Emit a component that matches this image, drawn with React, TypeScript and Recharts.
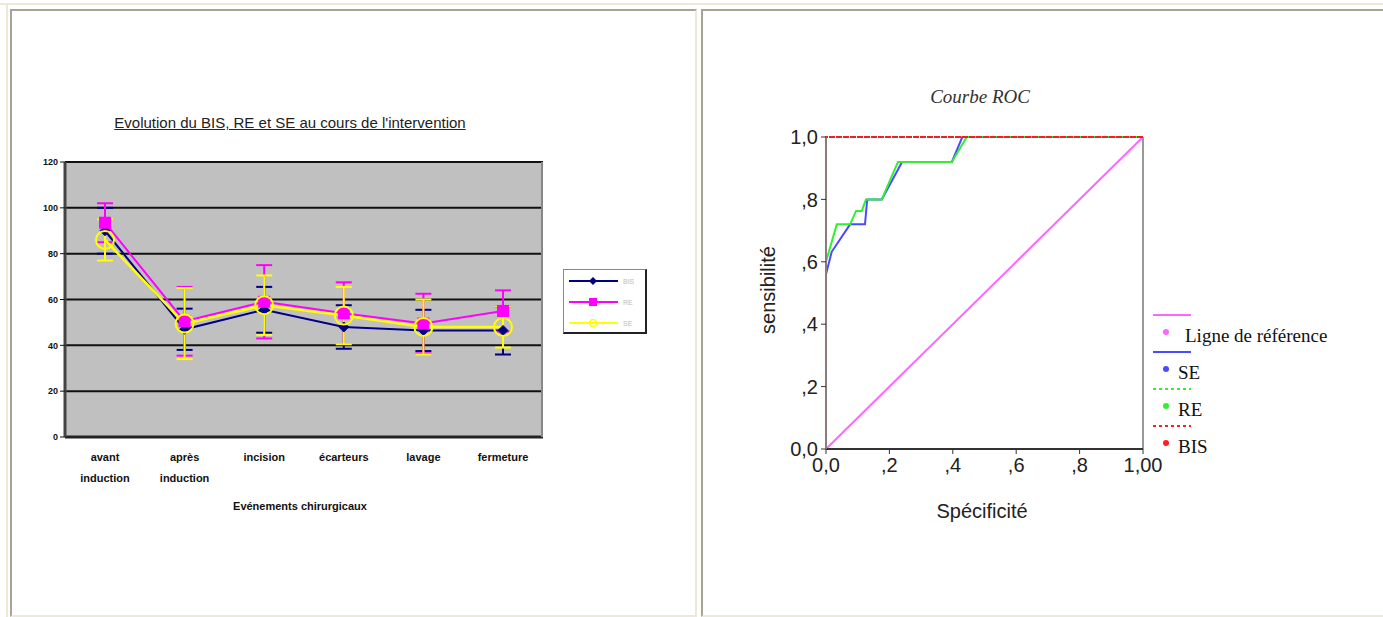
import React from "react";
import {
  LineChart,
  Line,
  XAxis,
  YAxis,
  CartesianGrid,
  ErrorBar,
  ReferenceLine,
} from "recharts";

// Left chart: evolution over surgical events
const categories = [
  "avant induction",
  "après induction",
  "incision",
  "écarteurs",
  "lavage",
  "fermeture",
];
const bisMean = [90, 47, 55.5, 48, 46.5, 46.5];
const bisSd = [10, 9, 10, 9.5, 9, 10.5];
const reMean = [93.5, 50.5, 59, 54, 49.5, 55];
const reSd = [8.5, 15, 16, 13.5, 13, 9];
const seMean = [86, 49.5, 57.5, 53, 48, 48];
const seSd = [9, 15.5, 13, 12.5, 12, 9];
const leftTicks = [0, 20, 40, 60, 80, 100, 120];

// Right chart: ROC curves, [1 - spécificité, sensibilité]
const refLine = [
  [0, 0],
  [1, 1],
];
const seRoc = [
  [0, 0.56],
  [0.018, 0.632],
  [0.076, 0.72],
  [0.123, 0.72],
  [0.13, 0.8],
  [0.176, 0.8],
  [0.24, 0.92],
  [0.397, 0.92],
  [0.43, 1],
  [1, 1],
];
const reRoc = [
  [0, 0.6],
  [0.034, 0.72],
  [0.076, 0.72],
  [0.095, 0.763],
  [0.113, 0.763],
  [0.126, 0.8],
  [0.176, 0.8],
  [0.227, 0.92],
  [0.397, 0.92],
  [0.444, 1],
  [1, 1],
];
const bisRoc = [
  [0, 0],
  [0, 1],
  [1, 1],
];
const rocTicks = [0, 0.2, 0.4, 0.6, 0.8, 1];

const evolution = categories.map((cat, i) => ({
  cat,
  bis: bisMean[i],
  bisErr: bisSd[i],
  re: reMean[i],
  reErr: reSd[i],
  se: seMean[i],
  seErr: seSd[i],
}));

const toPts = (arr: number[][]) => arr.map(([x, y]) => ({ x, y }));

const NAVY = "#000080";
const MAGENTA = "#ff00ff";
const YELLOW = "#ffff00";

function Diamond(props: any) {
  const { cx, cy } = props;
  if (cx == null || cy == null) return null;
  return (
    <path
      d={`M${cx},${cy - 5} L${cx + 5},${cy} L${cx},${cy + 5} L${cx - 5},${cy} Z`}
      fill={NAVY}
      stroke={NAVY}
    />
  );
}

function Square(props: any) {
  const { cx, cy } = props;
  if (cx == null || cy == null) return null;
  return <rect x={cx - 6} y={cy - 6} width={12} height={12} fill={MAGENTA} />;
}

function Ring(props: any) {
  const { cx, cy } = props;
  if (cx == null || cy == null) return null;
  return <circle cx={cx} cy={cy} r={9} fill="none" stroke={YELLOW} strokeWidth={2} />;
}

function CategoryTick(props: any) {
  const { x, y, payload } = props;
  const words = String(payload.value).split(" ");
  return (
    <text
      x={x}
      y={y}
      textAnchor="middle"
      fontSize={11}
      fontWeight="bold"
      fontFamily="Arial, 'Liberation Sans', sans-serif"
      fill="#111"
    >
      {words.map((w, i) => (
        <tspan key={i} x={x} dy={i === 0 ? 16 : 21}>
          {w}
        </tspan>
      ))}
    </text>
  );
}

const rocFmtX = (v: number) => (v === 0 ? "0,0" : v === 1 ? "1,00" : "," + Math.round(v * 10));
const rocFmtY = (v: number) => (v === 0 ? "0,0" : v === 1 ? "1,0" : "," + Math.round(v * 10));

const sans = "Arial, 'Liberation Sans', sans-serif";
const serif = "'Times New Roman', 'Liberation Serif', serif";

function LeftLegend() {
  const items = [
    { name: "BIS", color: NAVY, mark: "diamond" },
    { name: "RE", color: MAGENTA, mark: "square" },
    { name: "SE", color: YELLOW, mark: "ring" },
  ];
  return (
    <div
      style={{
        position: "absolute",
        left: 563,
        top: 269,
        width: 84,
        height: 65,
        boxSizing: "border-box",
        background: "#fff",
        borderTop: "1px solid #888",
        borderLeft: "1px solid #888",
        borderRight: "2px solid #222",
        borderBottom: "2px solid #222",
      }}
    >
      <svg width={82} height={62}>
        {items.map((it, i) => {
          const y = 11 + i * 21;
          return (
            <g key={it.name}>
              <line x1={5} x2={54} y1={y} y2={y} stroke={it.color} strokeWidth={2} />
              {it.mark === "diamond" && (
                <path d={`M29,${y - 4} L33,${y} L29,${y + 4} L25,${y} Z`} fill={it.color} />
              )}
              {it.mark === "square" && <rect x={25} y={y - 4} width={8} height={8} fill={it.color} />}
              {it.mark === "ring" && (
                <circle cx={29} cy={y} r={3.5} fill="none" stroke={it.color} strokeWidth={1.5} />
              )}
              <text x={59} y={y + 3} fontSize={7} fill="#bbb" fontFamily={sans}>
                {it.name}
              </text>
            </g>
          );
        })}
      </svg>
    </div>
  );
}

function RocLegend() {
  const items = [
    { name: "Ligne de référence", color: "#ff66ff", dash: undefined },
    { name: "SE", color: "#4a4aff", dash: undefined },
    { name: "RE", color: "#33ee33", dash: "3 3" },
    { name: "BIS", color: "#ff2020", dash: "3 3" },
  ];
  return (
    <svg
      width={210}
      height={175}
      style={{ position: "absolute", left: 1150, top: 305 }}
    >
      {items.map((it, i) => {
        const y = 10 + i * 37;
        return (
          <g key={it.name}>
            <line
              x1={3}
              x2={41}
              y1={y}
              y2={y}
              stroke={it.color}
              strokeWidth={2}
              strokeDasharray={it.dash}
            />
            <circle cx={16} cy={y + 17} r={3} fill={it.color} />
            <text
              x={it.name.length > 3 ? 35 : 28}
              y={y + 27}
              fontSize={19}
              fontFamily={serif}
              fill="#111"
            >
              {it.name}
            </text>
          </g>
        );
      })}
    </svg>
  );
}

export default function App() {
  return (
    <div
      style={{
        position: "absolute",
        left: 0,
        top: 0,
        width: 1383,
        height: 617,
        background: "#fff",
        overflow: "hidden",
      }}
    >
      {/* table frame */}
      <div style={{ position: "absolute", left: 0, top: 3, width: 1383, height: 2, background: "#ece9d8" }} />
      <div style={{ position: "absolute", left: 6, top: 3, width: 2, height: 614, background: "#ece9d8" }} />
      <div
        style={{
          position: "absolute",
          left: 10,
          top: 9,
          width: 687,
          height: 608,
          boxSizing: "border-box",
          borderTop: "2px solid #a7a396",
          borderLeft: "2px solid #a7a396",
          borderRight: "2px solid #ece9d8",
          borderBottom: "2px solid #ece9d8",
        }}
      />
      <div
        style={{
          position: "absolute",
          left: 701,
          top: 9,
          width: 682,
          height: 608,
          boxSizing: "border-box",
          borderTop: "2px solid #a7a396",
          borderLeft: "2px solid #a7a396",
          borderBottom: "2px solid #ece9d8",
        }}
      />

      {/* left chart */}
      <div
        style={{
          position: "absolute",
          left: 77,
          top: 114,
          width: 426,
          textAlign: "center",
          fontFamily: sans,
          fontSize: 15,
          color: "#222",
          textDecoration: "underline",
          whiteSpace: "nowrap",
        }}
      >
        Evolution du BIS, RE et SE au cours de l'intervention
      </div>
      <div style={{ position: "absolute", left: 0, top: 0 }}>
        <LineChart
          width={690}
          height={617}
          data={evolution}
          margin={{ top: 162, right: 147, bottom: 120, left: 35 }}
        >
          <CartesianGrid vertical={false} stroke="#111" strokeWidth={2} fill="#c0c0c0" />
          <XAxis
            dataKey="cat"
            interval={0}
            padding={{ left: 40, right: 40 }}
            tickLine={false}
            tick={<CategoryTick />}
            height={60}
            axisLine={{ stroke: "#222", strokeWidth: 3 }}
          />
          <YAxis
            domain={[0, 120]}
            ticks={leftTicks}
            width={30}
            tickSize={5}
            tickLine={{ stroke: "#111" }}
            axisLine={{ stroke: "#444", strokeWidth: 3 }}
            tick={{ fontSize: 9, fontWeight: "bold", fill: "#111", fontFamily: sans }}
          />
          <Line dataKey="bis" stroke={NAVY} strokeWidth={2} dot={<Diamond />} isAnimationActive={false}>
            <ErrorBar dataKey="bisErr" width={8} stroke={NAVY} strokeWidth={2} />
          </Line>
          <Line dataKey="re" stroke={MAGENTA} strokeWidth={2} dot={<Square />} isAnimationActive={false}>
            <ErrorBar dataKey="reErr" width={8} stroke={MAGENTA} strokeWidth={2} />
          </Line>
          <Line dataKey="se" stroke={YELLOW} strokeWidth={2.5} dot={<Ring />} isAnimationActive={false}>
            <ErrorBar dataKey="seErr" width={8} stroke={YELLOW} strokeWidth={2} />
          </Line>
        </LineChart>
      </div>
      <div style={{ position: "absolute", left: 541, top: 162, width: 2, height: 275, background: "#888" }} />
      <div
        style={{
          position: "absolute",
          left: 150,
          top: 500,
          width: 300,
          textAlign: "center",
          fontFamily: sans,
          fontSize: 11,
          fontWeight: "bold",
          color: "#111",
        }}
      >
        Evénements chirurgicaux
      </div>
      <LeftLegend />

      {/* right chart: ROC */}
      <div
        style={{
          position: "absolute",
          left: 880,
          top: 86,
          width: 200,
          textAlign: "center",
          fontFamily: serif,
          fontStyle: "italic",
          fontSize: 19,
          color: "#333",
        }}
      >
        Courbe ROC
      </div>
      <div style={{ position: "absolute", left: 703, top: 10 }}>
        <LineChart width={680} height={607} margin={{ top: 127, right: 240, bottom: 128, left: 63 }}>
          <XAxis
            type="number"
            dataKey="x"
            domain={[0, 1]}
            ticks={rocTicks}
            tickFormatter={rocFmtX}
            height={40}
            tickSize={5}
            tickMargin={4}
            axisLine={{ stroke: "#333", strokeWidth: 2 }}
            tickLine={{ stroke: "#333" }}
            tick={{ fontSize: 20, fill: "#222", fontFamily: sans }}
          />
          <YAxis
            type="number"
            dataKey="y"
            domain={[0, 1]}
            ticks={rocTicks}
            tickFormatter={rocFmtY}
            width={60}
            tickSize={5}
            tickMargin={3}
            axisLine={{ stroke: "#8c7b7b", strokeWidth: 2 }}
            tickLine={{ stroke: "#333" }}
            tick={{ fontSize: 20, fill: "#222", fontFamily: sans }}
          />
          <ReferenceLine x={1} stroke="#999" strokeWidth={2} />
          <Line
            data={toPts(refLine)}
            dataKey="y"
            type="linear"
            stroke="#ff66ff"
            strokeWidth={2}
            dot={false}
            isAnimationActive={false}
          />
          <Line
            data={toPts(seRoc)}
            dataKey="y"
            type="linear"
            stroke="#4a4aff"
            strokeWidth={2}
            dot={false}
            isAnimationActive={false}
          />
          <Line
            data={toPts(reRoc)}
            dataKey="y"
            type="linear"
            stroke="#33ee33"
            strokeWidth={2}
            dot={false}
            isAnimationActive={false}
          />
          <Line
            data={toPts(bisRoc)}
            dataKey="y"
            type="linear"
            stroke="#ee2020"
            strokeWidth={2}
            strokeDasharray="6 1"
            dot={false}
            isAnimationActive={false}
          />
        </LineChart>
      </div>
      <div
        style={{
          position: "absolute",
          left: 768,
          top: 290,
          transform: "translate(-50%, -50%) rotate(-90deg)",
          fontFamily: sans,
          fontSize: 20,
          color: "#222",
          whiteSpace: "nowrap",
        }}
      >
        sensibilité
      </div>
      <div
        style={{
          position: "absolute",
          left: 882,
          top: 500,
          width: 200,
          textAlign: "center",
          fontFamily: sans,
          fontSize: 20,
          color: "#222",
        }}
      >
        Spécificité
      </div>
      <RocLegend />
    </div>
  );
}
